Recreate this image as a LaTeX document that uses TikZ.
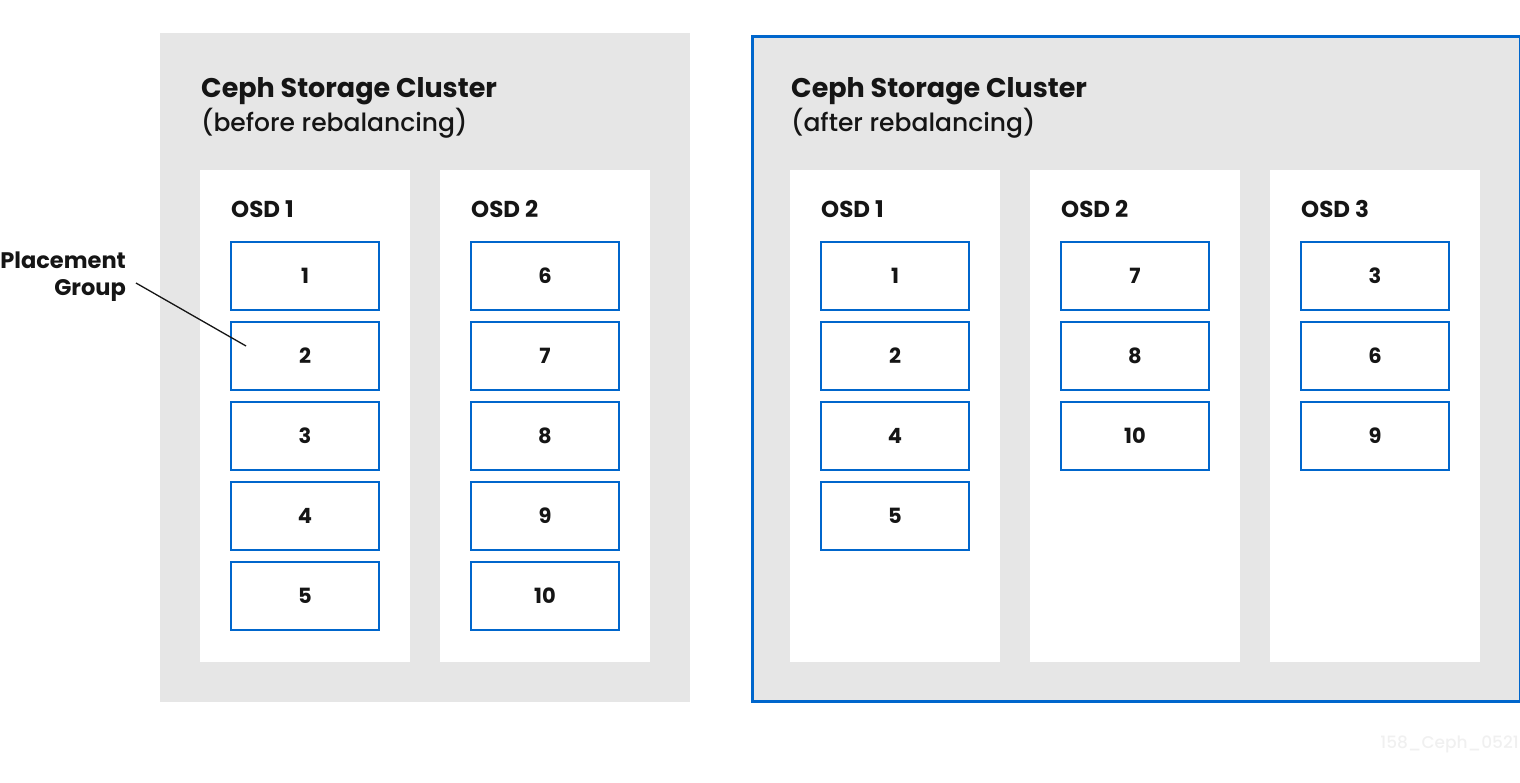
\documentclass[tikz,border=0pt]{standalone}
\usepackage{fontspec}
\setmainfont{Poppins}[UprightFont=*-Medium,BoldFont=*-Bold]
\usetikzlibrary{positioning}
\definecolor{cephgray}{HTML}{E6E6E6}
\definecolor{cephblue}{HTML}{0066CC}
\definecolor{cephink}{HTML}{151515}
\definecolor{tagink}{HTML}{F0F0F0}

\begin{document}
\begin{tikzpicture}[x=1pt,y=-1pt,text=cephink,
    cluster/.style={fill=cephgray,inner sep=0pt,anchor=north west,
                    minimum width=530pt,minimum height=669pt},
    osd/.style={fill=white,inner sep=0pt,anchor=north west,
                minimum width=210pt,minimum height=492pt},
    pg/.style={draw=cephblue,line width=2pt,fill=white,inner sep=0pt,
               minimum width=148pt,minimum height=68pt,
               font=\fontsize{21}{25}\selectfont\bfseries},
    title/.style={anchor=north west,align=left,inner sep=0pt,
                  font=\fontsize{25}{34}\selectfont},
    osdlabel/.style={anchor=north west,inner sep=0pt,
                     font=\fontsize{23}{28}\selectfont\bfseries}]
  \useasboundingbox (0,0) rectangle (1520,783);

  % clusters
  \node[cluster] (before) at (160,33) {};
  \node[cluster,draw=cephblue,line width=3pt,minimum width=768pt,
        minimum height=665pt] (after) at (751,35) {};
  \node[title] (tbefore) at (201,77) {{\fontsize{27}{34}\selectfont\bfseries Ceph Storage Cluster}\\(before rebalancing)};
  \node[title] (tafter) at (791,77) {{\fontsize{27}{34}\selectfont\bfseries Ceph Storage Cluster}\\(after rebalancing)};

  % OSD columns
  \foreach \name/\x in {b1/200,b2/440,a1/790,a2/1030,a3/1270}
    \node[osd] (\name) at (\x,170) {};
  \foreach \name/\n in {b1/1,b2/2,a1/1,a2/2,a3/3}
    \node[osdlabel] (\name-label) at ([xshift=31pt,yshift=-30.5pt]\name.north west) {OSD \n};

  % placement groups
  \foreach \n [count=\i] in {1,2,3,4,5}
    \node[pg] (b1-pg\i) at (305,196+80*\i) {\n};
  \foreach \n [count=\i] in {6,7,8,9,10}
    \node[pg] (b2-pg\i) at (545,196+80*\i) {\n};
  \foreach \n [count=\i] in {1,2,4,5}
    \node[pg] (a1-pg\i) at (895,196+80*\i) {\n};
  \foreach \n [count=\i] in {7,8,10}
    \node[pg] (a2-pg\i) at (1135,196+80*\i) {\n};
  \foreach \n [count=\i] in {3,6,9}
    \node[pg] (a3-pg\i) at (1375,196+80*\i) {\n};

  % callout
  \node[anchor=north east,align=right,inner sep=0pt,
        font=\fontsize{22.5}{27}\selectfont\bfseries] (pglabel) at (126,252)
        {Placement\\Group};
  \coordinate (pgtip) at (246,346);
  \draw[line width=1.3pt,cephink] ([shift={(10,6)}]pglabel.east) -- (pgtip);

  \node[anchor=base east,inner sep=0pt,text=tagink,
        font=\fontsize{17}{21}\selectfont] (tag) at (1519,748) {158\_Ceph\_0521};
\end{tikzpicture}
\end{document}
